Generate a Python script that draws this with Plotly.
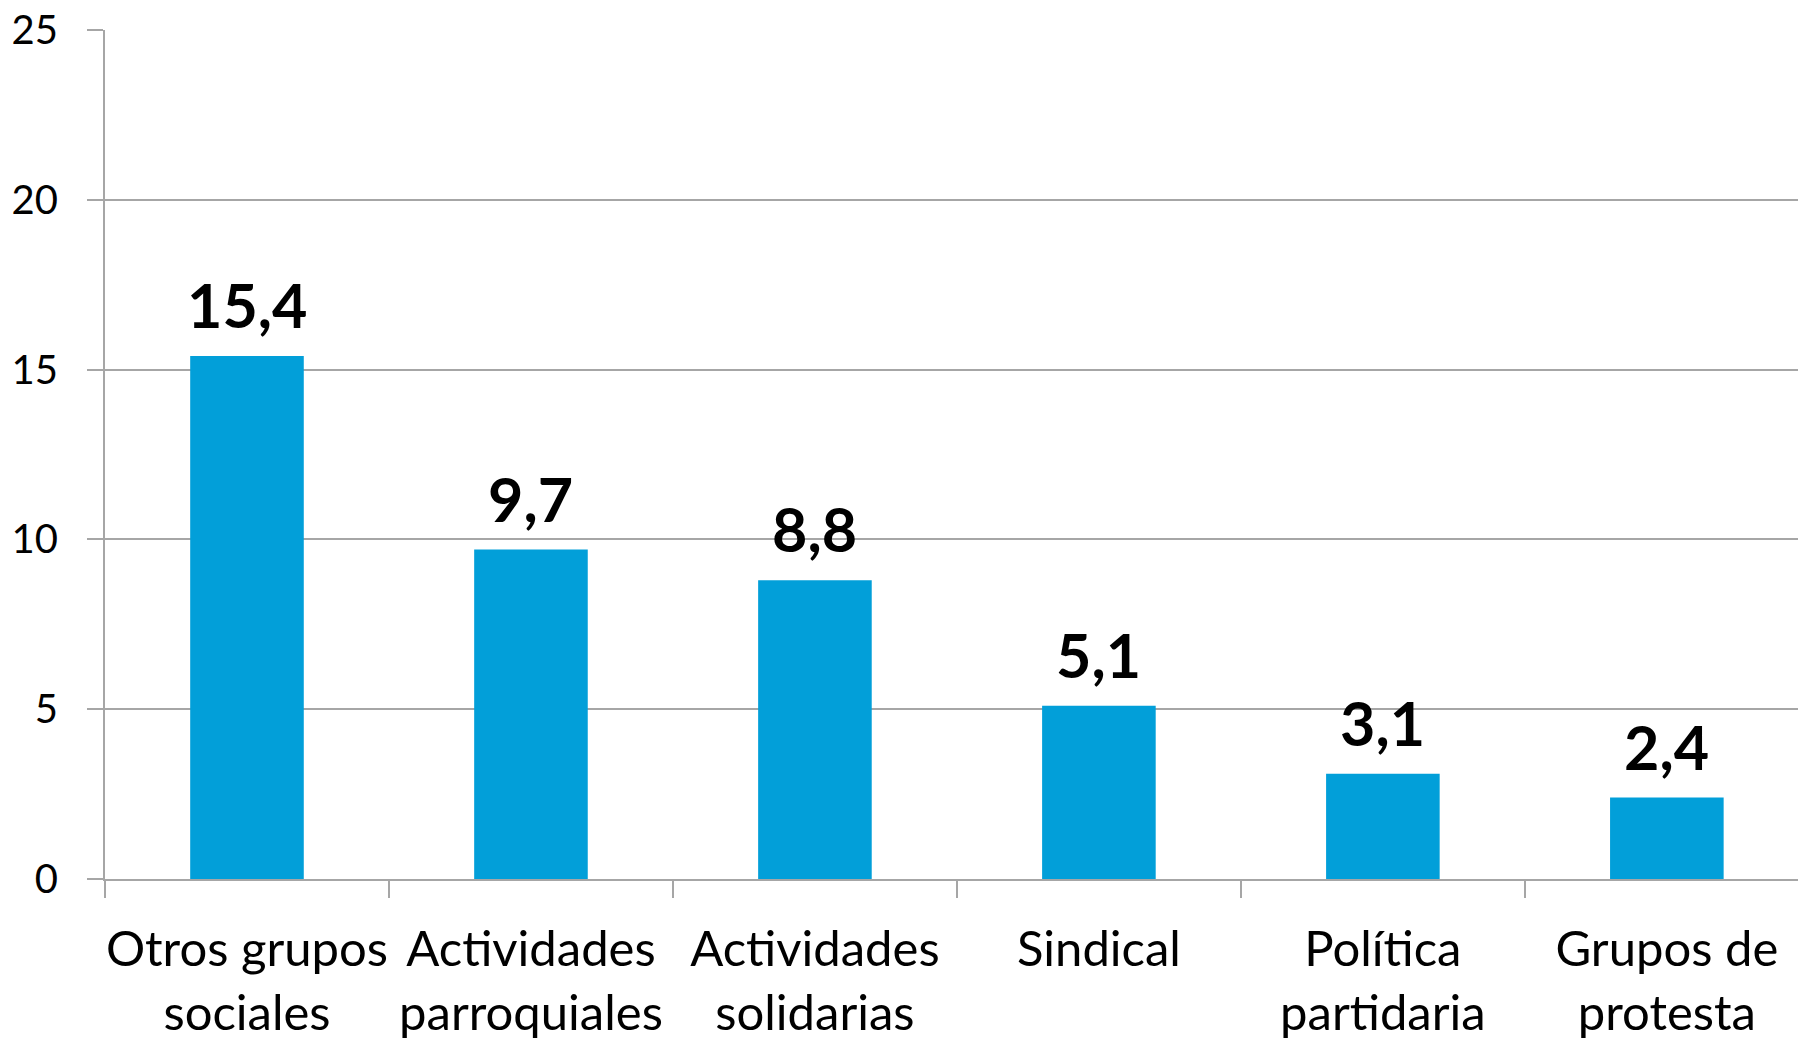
import plotly.graph_objects as go

categories = ["Otros grupos<br>sociales", "Actividades<br>parroquiales", "Actividades<br>solidarias",
              "Sindical", "Política<br>partidaria", "Grupos de<br>protesta"]
values = [15.4, 9.7, 8.8, 5.1, 3.1, 2.4]
y_ticks = [0, 5, 10, 15, 20, 25]

BAR = "#029FD9"
GRID = "#A6A6A6"
FONT = "Lato"

fig = go.Figure()
fig.add_trace(go.Bar(x=categories, y=values, marker=dict(color=BAR, line=dict(width=0)),
                     width=0.4, hoverinfo="skip"))

for c, v in zip(categories, values):
    fig.add_annotation(x=c, y=v, text="<b>" + f"{v:.1f}".replace(".", ",") + "</b>",
                       showarrow=False, yanchor="bottom", yshift=13,
                       font=dict(family=FONT, size=61, color="#000000"))

fig.update_layout(
    width=1798, height=1031,
    margin=dict(l=97, r=0, t=22, b=160),
    paper_bgcolor="white", plot_bgcolor="white",
    showlegend=False,
    bargap=0.6,
    font=dict(family=FONT, color="#000000"),
)
fig.update_xaxes(
    type="category", range=[-0.5, 5.49],
    showline=True, linecolor=GRID, linewidth=2,
    ticks="outside", tickson="boundaries", ticklen=17, tickwidth=2, tickcolor=GRID,
    tickfont=dict(family=FONT, size=49, color="#000000"),
    tickangle=0, automargin=False,
    ticklabelstandoff=26,
    showgrid=False,
)
fig.update_yaxes(
    range=[0, 25], tickvals=y_ticks,
    showline=True, linecolor=GRID, linewidth=2,
    showgrid=True, gridcolor=GRID, gridwidth=2,
    zeroline=False, automargin=False,
    ticks="outside", ticklen=16, tickwidth=2, tickcolor=GRID,
    tickfont=dict(family=FONT, size=40, color="#000000"),
    ticklabelstandoff=21, ticklabeloverflow="allow",
)

fig.write_html("out.html")
